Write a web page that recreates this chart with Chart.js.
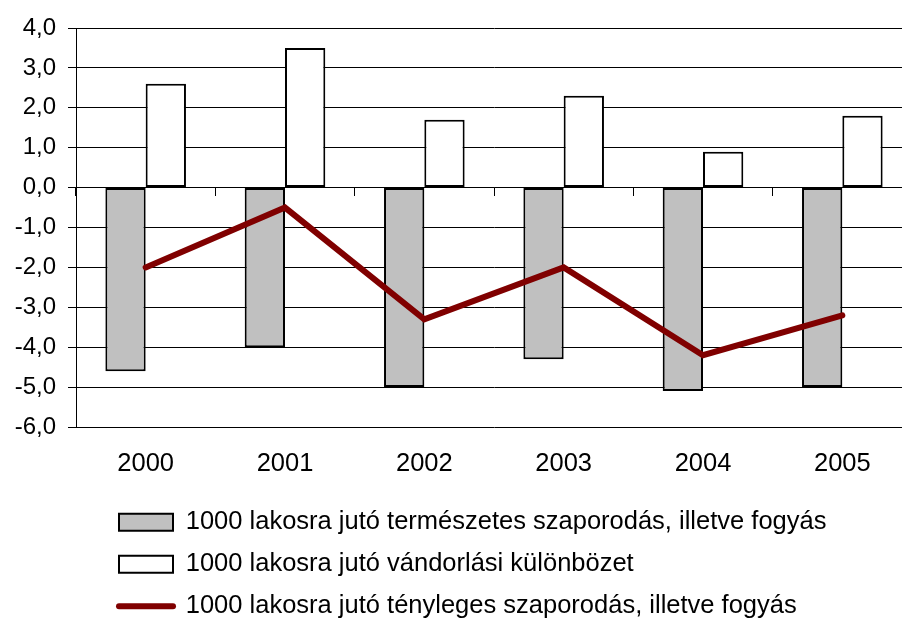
<!DOCTYPE html>
<html>
<head>
<meta charset="utf-8">
<script src="https://cdn.jsdelivr.net/npm/chart.js@4.4.1/dist/chart.umd.min.js"></script>
<style>
  html, body { margin: 0; padding: 0; background: #fff; overflow: hidden; }
  canvas { display: block; }
</style>
</head>
<body>
<canvas id="chart" width="920" height="629"></canvas>
<script>
const evek = ['2000', '2001', '2002', '2003', '2004', '2005'];
const termeszetes = [-4.6, -4.0, -5.0, -4.3, -5.1, -5.0];
const vandorlasi = [2.6, 3.5, 1.7, 2.3, 0.9, 1.8];
const tenyleges = [-2.0, -0.5, -3.3, -2.0, -4.2, -3.2];
const yMin = -6, yMax = 4, yStep = 1;

Chart.defaults.font.family = '"Liberation Sans", Arial, sans-serif';
Chart.defaults.font.size = 24;
Chart.defaults.color = '#000';

// a jelmagyarázatot jobbra toljuk, mint az eredetin
const legendShift = {
  id: 'legendShift',
  afterLayout(chart) {
    chart.legend.left += 102.5;
    chart.legend.right += 102.5;
  }
};

const ctx = document.getElementById('chart');

new Chart(ctx, {
  type: 'bar',
  data: {
    labels: evek,
    datasets: [
      {
        label: '1000 lakosra jutó természetes szaporodás, illetve fogyás',
        data: termeszetes,
        backgroundColor: '#c0c0c0',
        borderColor: '#000',
        borderWidth: 2,
        borderSkipped: false,
        barPercentage: 1,
        categoryPercentage: 0.5785,
        order: 1
      },
      {
        label: '1000 lakosra jutó vándorlási különbözet',
        data: vandorlasi,
        backgroundColor: '#fff',
        borderColor: '#000',
        borderWidth: 2,
        borderSkipped: false,
        barPercentage: 1,
        categoryPercentage: 0.5785,
        order: 1
      },
      {
        type: 'line',
        label: '1000 lakosra jutó tényleges szaporodás, illetve fogyás',
        data: tenyleges,
        borderColor: '#800000',
        backgroundColor: '#800000',
        borderWidth: 6,
        borderCapStyle: 'round',
        pointRadius: 0,
        tension: 0,
        order: 0
      }
    ]
  },
  options: {
    responsive: false,
    animation: false,
    layout: { padding: { top: 28, right: 8, left: 0, bottom: 0 } },
    scales: {
      x: {
        grid: { display: false, drawTicks: false, tickLength: 0 },
        border: { display: false },
        ticks: { padding: 22, font: { size: 25.5 } },
        afterFit(scale) { scale.height = 66; }
      },
      x0: {
        type: 'category',
        position: { y: 0 },
        offset: true,
        grid: { offset: true, drawOnChartArea: false, tickLength: 8, color: '#000' },
        border: { color: '#000', width: 1 },
        ticks: { display: false }
      },
      y: {
        min: yMin,
        max: yMax,
        grid: { color: '#000', lineWidth: 1, tickLength: 8 },
        border: { color: '#000', width: 1 },
        ticks: {
          stepSize: yStep,
          padding: 12,
          callback: (v) => v.toFixed(1).replace('.', ',')
        },
        afterFit(scale) { scale.width = 76; }
      }
    },
    plugins: {
      tooltip: { enabled: false },
      legend: {
        position: 'bottom',
        align: 'start',
        labels: {
          usePointStyle: true,
          pointStyleWidth: 54,
          boxHeight: 17,
          padding: 16.5,
          font: { size: 25.5 },
          generateLabels(chart) {
            return chart.data.datasets.map((ds, i) => ({
              text: ds.label,
              fillStyle: ds.backgroundColor,
              strokeStyle: ds.type === 'line' ? ds.borderColor : '#000',
              lineWidth: ds.type === 'line' ? 6 : 2,
              lineCap: 'round',
              pointStyle: ds.type === 'line' ? 'line' : 'rect',
              hidden: false,
              datasetIndex: i,
              fontColor: '#000'
            }));
          }
        }
      }
    }
  },
  plugins: [legendShift]
});
</script>
</body>
</html>
